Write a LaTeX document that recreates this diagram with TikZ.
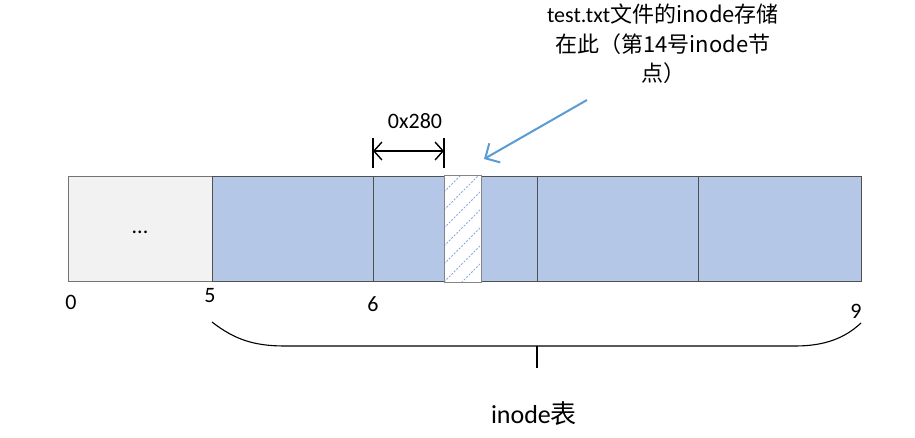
\documentclass[tikz,border=0pt]{standalone}
\usepackage{fontspec}
\setmainfont{Carlito}
\newfontfamily\cjk{Noto Sans CJK SC}
\usetikzlibrary{arrows.meta}
\definecolor{CellBlue}{HTML}{B4C7E7}
\definecolor{CellGray}{HTML}{F2F2F2}
\definecolor{PointerBlue}{HTML}{5B9BD5}
\definecolor{HatchBlue}{HTML}{8FAADC}
\definecolor{EdgeGray}{HTML}{505050}

\begin{document}
\begin{tikzpicture}[
                x=1pt, y=-1pt,
                every node/.style={font=\fontsize{22}{29.5}\selectfont},
                cell/.style={draw=EdgeGray, line width=1pt, fill=CellBlue, minimum height=105pt, inner sep=0pt, anchor=north west},
                free/.style={cell, fill=white, draw=none},
                hatch/.style={HatchBlue, line width=0.8pt, dash pattern=on 2pt off 1.5pt},
                dim/.style={{Straight Barb[length=8pt, width=18pt]}-{Straight Barb[length=8pt, width=18pt]}, black, line width=1.4pt},
                bar/.style={black, line width=1.4pt},
                pointer/.style={-{Straight Barb[length=11pt, width=22pt]}, PointerBlue, line width=2pt},
                brace/.style={black, line width=1.1pt}
            ]
                \useasboundingbox (0,0) rectangle (915,438);

                % Blocks of the disk
                \node[cell, fill=CellGray, draw=EdgeGray!80, minimum width=144pt] (c0) at (68,176) {};
                \node at (140,232) {...};
                \foreach \x/\w/\n in {212/161/c1, 373/71/c2, 480/57/c4, 537/161/c5, 698/163/c6} {
                    \node[cell, minimum width=\w pt] (\n) at (\x,176) {};
                }

                % Hatched inode
                \node[free, minimum width=36pt] (c3) at (444,176) {};
                \begin{scope}
                    \clip (444,176) rectangle (480,281);
                    \foreach \k in {0,18,...,162} {
                        \draw[hatch] (444,300-\k) -- ++(50,-50);
                    }
                \end{scope}
                \draw[EdgeGray!70, line width=1pt] (c3.north west) rectangle (c3.south east);

                % Block numbers
                \node (n0) at (71,302) {0};
                \node (n5) at (210,296) {5};
                \node (n6) at (373,304) {6};
                \node (n9) at (856,311) {9};

                % Offset 0x280
                \draw[bar] (c2.north west) ++(0,-8) -- ++(0,-30);
                \draw[bar] (c3.north west) ++(0,-8) -- ++(0,-30);
                \coordinate (d1) at ([yshift=25pt]c2.north west);
                \coordinate (d2) at ([yshift=25pt]c3.north west);
                \draw[dim] (d1) -- (d2);
                \node (off) at (415,121) {0x280};

                % Note on the inode of test.txt
                \node[align=center, inner sep=0pt] (note) at (663,44) {test.txt\cjk{文件的}inode\cjk{存储}\\\cjk{在此（第}14\cjk{号}inode\cjk{节}\\\cjk{点）}};
                \coordinate (ptr) at (587,100);
                \coordinate (tip) at (484,159);
                \draw[pointer] (ptr) -- (tip);

                % inode table
                \coordinate (bl) at (212,322);
                \coordinate (br) at (861,323);
                \coordinate (bm) at (537,346);
                \draw[brace] (bl) .. controls (235,340) and (255,346) .. (285,346) -- (795,346) .. controls (825,346) and (845,338) .. (br);
                \draw[brace] (bm) -- ++(0,22);
                \node[font=\fontsize{26}{30}\selectfont] (table) at (534,414) {inode\cjk{表}};
            \end{tikzpicture}
\end{document}
